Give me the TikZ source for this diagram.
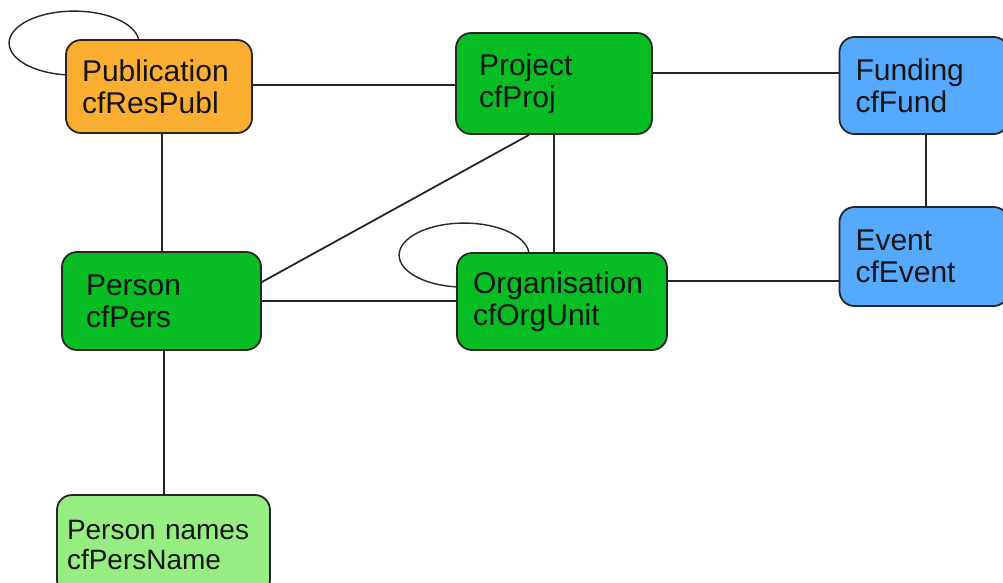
\documentclass[tikz,border=0pt]{standalone}
\usepackage{fontspec}
\setmainfont{Liberation Sans}
\pgfdeclarelayer{background}
\pgfsetlayers{background,main}
\definecolor{puborange}{HTML}{FAAE32}
\definecolor{entgreen}{HTML}{06BE23}
\definecolor{entblue}{HTML}{55AAFF}
\definecolor{namegreen}{HTML}{96EE82}
\definecolor{txt}{HTML}{141414}
\tikzset{
  entbox/.style={draw=black!85, line width=1.8pt, rounded corners=15pt,
    inner xsep=16pt, inner ysep=0pt, align=left, text=txt,
    font=\fontsize{30}{32}\selectfont},
  conn/.style={draw=black!85, line width=1.8pt},
  selfloop/.style={draw=black!85, line width=1.4pt},
}
\begin{document}
\begin{tikzpicture}[x=1pt,y=-1pt]
\useasboundingbox (0,0) rectangle (1003,582);
% boxes: centre, width, height
\node[entbox, fill=puborange, minimum height=93pt, text width=154pt] (pub) at (159,86.5) {Publication\\cfResPubl};
\node[entbox, fill=entgreen, minimum height=101pt, text width=150pt, inner xsep=23pt] (proj) at (554,83.5) {Project\\cfProj};
\node[entbox, fill=entblue, minimum height=97pt, text width=137pt] (fund) at (924,85.5) {Funding\\cfFund};
\node[entbox, fill=entblue, minimum height=99pt, text width=137pt] (ev) at (924,256.5) {Event\\cfEvent};
\node[entbox, fill=entgreen, minimum height=98pt, text width=151pt, inner xsep=24pt] (pers) at (161.5,301) {Person\\cfPers};
\node[entbox, fill=entgreen, minimum height=97pt, text width=178pt] (org) at (562,301.5) {Organisation\\cfOrgUnit};
\node[entbox, fill=namegreen, minimum height=100pt, text width=193pt, inner xsep=10pt, font=\fontsize{28}{30}\selectfont] (names) at (163.5,545) {Person names\\cfPersName};
% self loops
\begin{pgfonlayer}{background}
\draw[selfloop] (pub.north west) ++(9,4) ellipse (65pt and 32pt);
\draw[selfloop] (org.north west) ++(8,3) ellipse (65pt and 32pt);
\end{pgfonlayer}
% connectors
\draw[conn] ([yshift=1.5pt]pub.east) -- ([yshift=1.5pt]pub.east -| proj.west);
\draw[conn] ([yshift=10.5pt]proj.east) -- ([yshift=10.5pt]proj.east -| fund.west);
\draw[conn] ([xshift=2pt]fund.south) -- ([xshift=2pt]fund.south |- ev.north);
\draw[conn] ([xshift=3pt]pub.south) -- ([xshift=3pt]pub.south |- pers.north);
\draw[conn] ([xshift=-25pt]proj.south) -- ([yshift=19pt]pers.east);
\draw[conn] (proj.south) -- (proj.south |- org.north);
\draw[conn] (pers.east) -- (pers.east -| org.west);
\draw[conn] ([yshift=20.5pt]org.east) -- ([yshift=20.5pt]org.east -| ev.west);
\draw[conn] ([xshift=0.5pt]names.north |- pers.south) -- ([xshift=0.5pt]names.north);
\end{tikzpicture}
\end{document}
